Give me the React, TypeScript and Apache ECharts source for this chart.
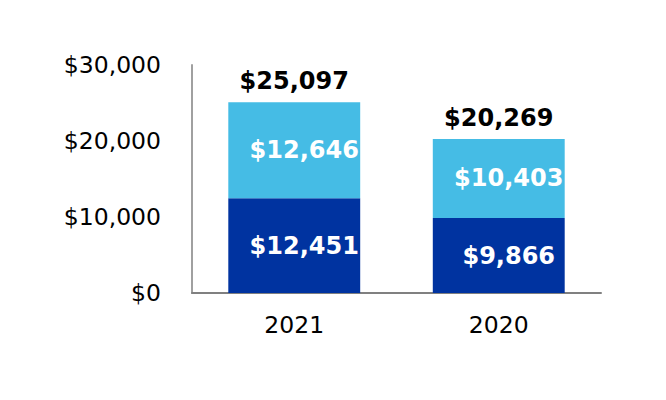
import React, { useEffect, useRef } from "react";
import * as echarts from "echarts";

const categories = ["2021", "2020"];
const baseValues = [12451, 9866];
const topValues = [12646, 10403];
const totals = [25097, 20269];
const yTicks = [0, 10000, 20000, 30000];

const fmt = (v: number) => "$" + v.toLocaleString("en-US");

export default function App() {
  const ref = useRef<HTMLDivElement>(null);
  useEffect(() => {
    const chart = echarts.init(ref.current!, null, { renderer: "svg" });
    const font = "DejaVu Sans";
    const inner = {
      show: true,
      position: "inside",
      offset: [10, 0],
      color: "#fff",
      fontWeight: "bold",
      fontSize: 24,
      fontFamily: font,
      formatter: (p: any) => fmt(p.value),
    };
    chart.setOption({
      animation: false,
      grid: { left: 192, right: 65, top: 65, bottom: 107 },
      xAxis: {
        type: "category",
        data: categories,
        axisLine: { show: true, lineStyle: { color: "#808080", width: 2 } },
        axisTick: { show: false },
        axisLabel: { color: "#000", fontSize: 23.5, fontFamily: font, margin: 20 },
      },
      yAxis: {
        type: "value",
        min: yTicks[0],
        max: yTicks[yTicks.length - 1],
        interval: 10000,
        axisLine: { show: true, lineStyle: { color: "#a0a0a0", width: 2 } },
        axisTick: { show: false },
        splitLine: { show: false },
        axisLabel: {
          color: "#000",
          fontSize: 23.5,
          fontFamily: font,
          margin: 31,
          formatter: (v: number) => fmt(v),
        },
      },
      series: [
        {
          type: "bar",
          data: totals,
          barWidth: "64.5%",
          barGap: "-100%",
          itemStyle: { color: "rgba(0,0,0,0)" },
          label: {
            show: true,
            position: "top",
            distance: 9,
            color: "#000",
            fontWeight: "bold",
            fontSize: 24,
            fontFamily: font,
            formatter: (p: any) => fmt(p.value),
          },
          z: 1,
        },
        {
          type: "bar",
          stack: "s",
          data: baseValues,
          barWidth: "64.5%",
          itemStyle: { color: "#0033a0" },
          label: inner,
          z: 2,
        },
        {
          type: "bar",
          stack: "s",
          data: topValues,
          barWidth: "64.5%",
          itemStyle: { color: "#45bce5" },
          label: inner,
          z: 2,
        },
      ],
    });
    return () => chart.dispose();
  }, []);
  return (
    <div
      ref={ref}
      style={{ position: "absolute", left: 0, top: 0, width: 666, height: 400 }}
    />
  );
}
